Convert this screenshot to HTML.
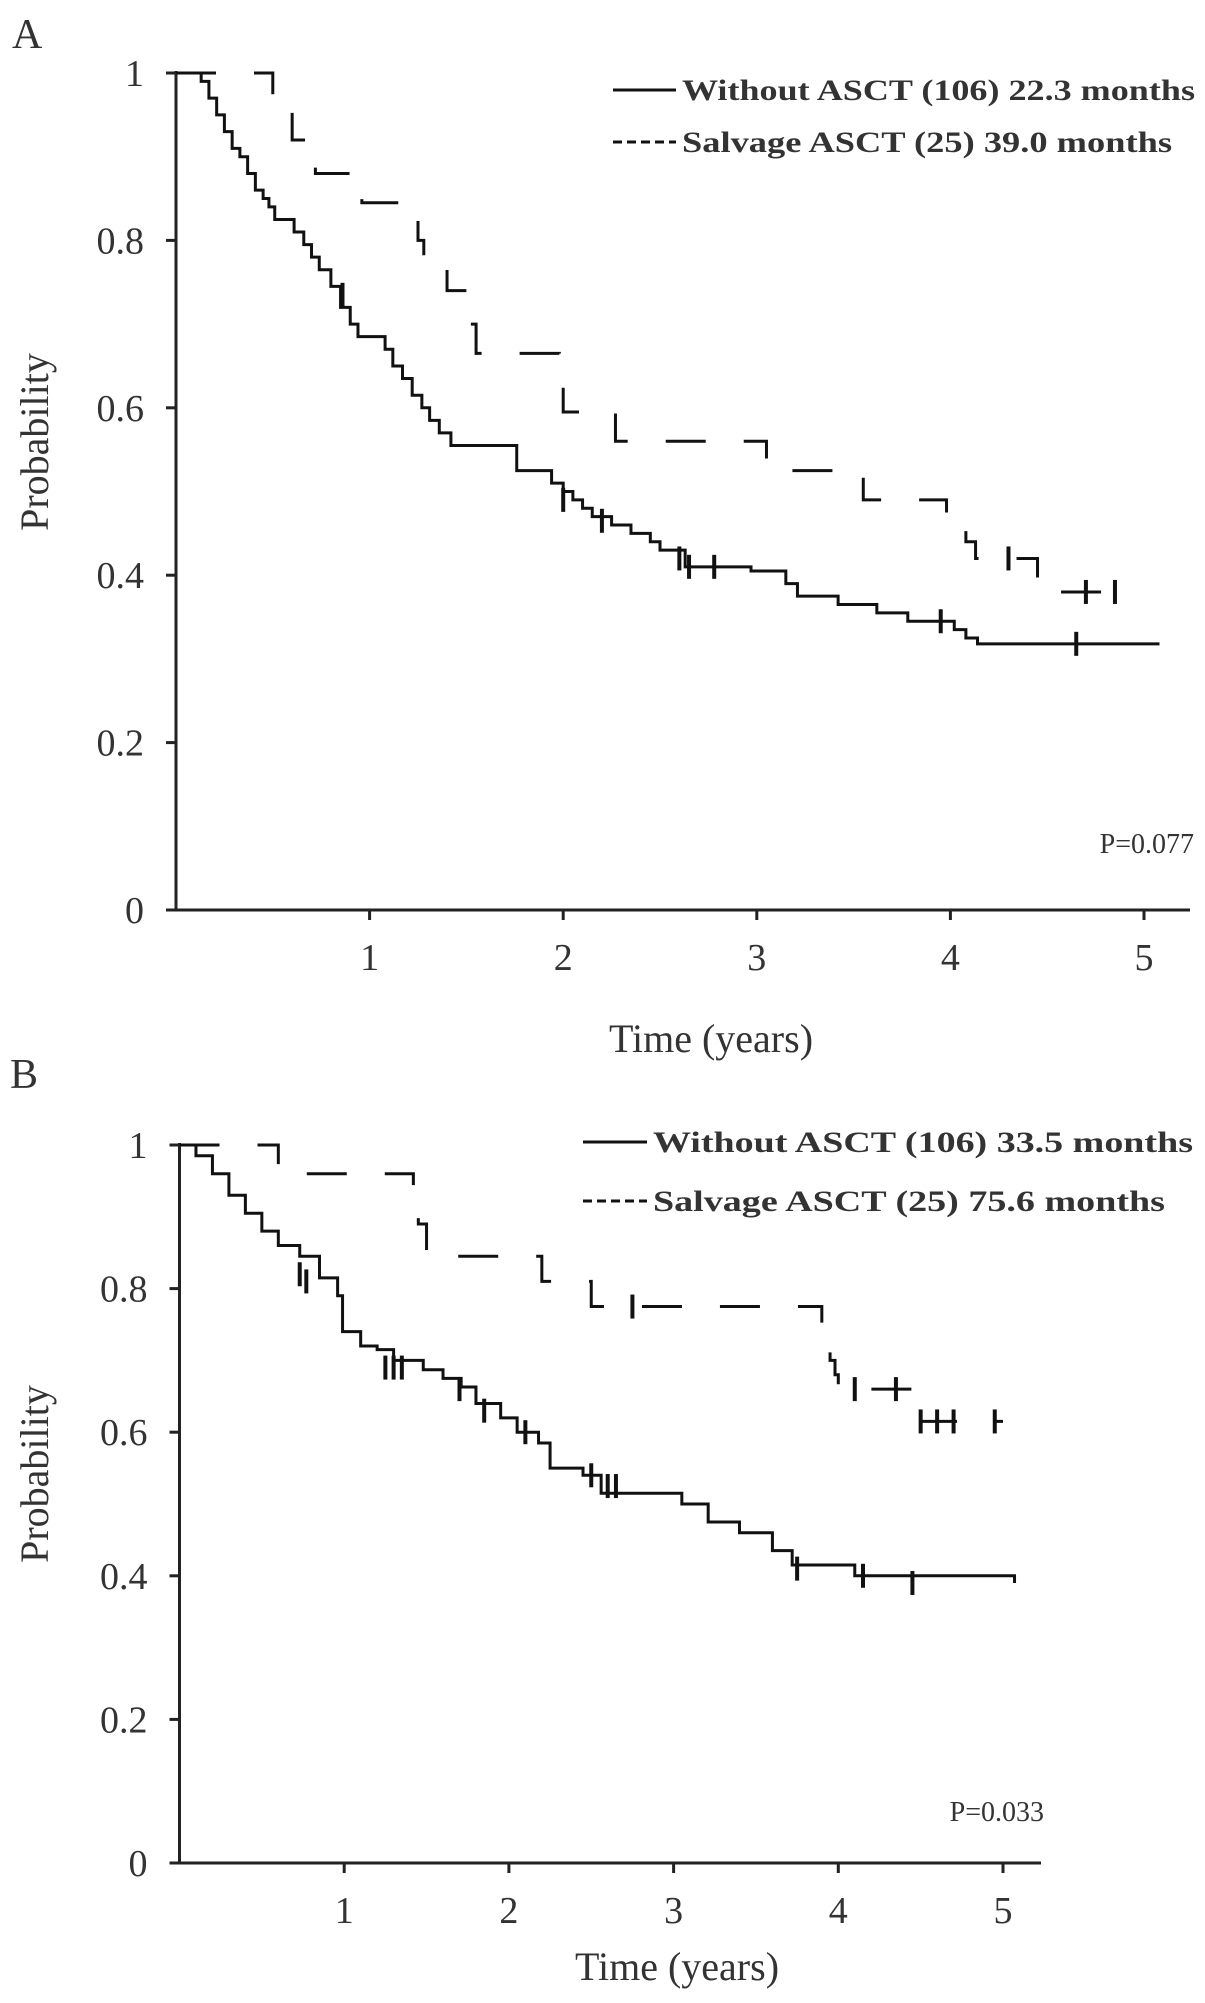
<!DOCTYPE html>
<html><head><meta charset="utf-8"><style>
html,body{margin:0;padding:0;background:#fff}
svg{display:block}
text{font-family:"Liberation Serif",serif;fill:#333}
</style></head><body>
<svg id="fig" width="1205" height="2003" xmlns="http://www.w3.org/2000/svg">
<text x="12" y="48" font-size="42">A</text>
<text x="10" y="1088" font-size="42">B</text>
<g id="ga"></g>
<g id="gb"></g>
</svg>
<script>
const yTicks=[0,0.2,0.4,0.6,0.8,1];
const yTickLabels=["0","0.2","0.4","0.6","0.8","1"];
const xTicks=[1,2,3,4,5];
const aSolidT=[0,0.13,0.17,0.21,0.25,0.29,0.33,0.37,0.41,0.45,0.48,0.51,0.61,0.66,0.7,0.74,0.8,0.85,0.9,0.94,1.08,1.12,1.17,1.22,1.27,1.31,1.36,1.42,1.76,1.94,2.0,2.05,2.1,2.15,2.25,2.35,2.45,2.5,2.63,2.97,3.15,3.21,3.42,3.62,3.78,4.02,4.08,4.14,5.08];
const aSolidS=[1,0.99,0.97,0.95,0.93,0.91,0.9,0.88,0.86,0.85,0.84,0.825,0.81,0.795,0.78,0.765,0.745,0.72,0.7,0.685,0.67,0.65,0.635,0.615,0.6,0.585,0.57,0.555,0.525,0.51,0.5,0.49,0.48,0.47,0.46,0.45,0.44,0.43,0.41,0.405,0.39,0.375,0.365,0.355,0.345,0.335,0.325,0.318,0.318];
const aSolidCensT=[0.86,2.0,2.2,2.6,2.65,2.78,3.95,4.65];
const aSolidCensS=[0.735,0.49,0.465,0.42,0.41,0.41,0.345,0.318];
const aDashT=[0,0.5,0.6,0.72,0.96,1.25,1.28,1.4,1.5,1.55,1.98,2.0,2.27,3.05,3.55,3.98,4.08,4.13,4.45,4.88];
const aDashS=[1,0.96,0.92,0.88,0.845,0.8,0.775,0.74,0.7,0.665,0.63,0.595,0.56,0.525,0.49,0.455,0.44,0.42,0.38,0.38];
const aDashCensT=[4.3,4.7,4.85];
const aDashCensS=[0.42,0.38,0.38];
const bSolidT=[0,0.1,0.2,0.3,0.4,0.5,0.6,0.73,0.85,0.96,0.99,1.1,1.2,1.3,1.48,1.6,1.71,1.8,1.95,2.05,2.18,2.25,2.45,2.56,3.05,3.21,3.4,3.6,3.72,4.1,5.07];
const bSolidS=[1,0.985,0.96,0.93,0.905,0.88,0.86,0.845,0.815,0.79,0.74,0.72,0.715,0.7,0.687,0.675,0.663,0.64,0.62,0.6,0.585,0.55,0.54,0.515,0.5,0.475,0.46,0.435,0.415,0.4,0.39];
const bSolidCensT=[0.73,0.77,1.25,1.3,1.35,1.7,1.85,2.1,2.5,2.6,2.65,3.75,4.15,4.45];
const bSolidCensS=[0.82,0.81,0.69,0.69,0.69,0.66,0.63,0.6,0.54,0.525,0.525,0.41,0.4,0.39];
const bDashT=[0,0.6,1.42,1.45,1.5,2.2,2.5,3.9,3.95,3.98,4.0,4.5,5.0];
const bDashS=[1,0.96,0.93,0.89,0.845,0.81,0.775,0.74,0.7,0.68,0.66,0.615,0.615];
const bDashCensT=[2.75,4.1,4.35,4.5,4.6,4.7,4.95];
const bDashCensS=[0.775,0.66,0.66,0.615,0.615,0.615,0.615];
const NS="http://www.w3.org/2000/svg";
function mk(g,tag,at,txt){const e=document.createElementNS(NS,tag);for(const k in at)e.setAttribute(k,at[k]);if(txt!==undefined)e.textContent=txt;g.appendChild(e);return e;}
function chart(g,cfg){
 const X=t=>cfg.x0+t*cfg.px;const Y=s=>cfg.y0-s*cfg.py;
 let ax=mk(g,'path',{d:`M${cfg.x0},${Y(1)-2}V${cfg.y0}H${cfg.xEnd}`,stroke:'#222','stroke-width':3,fill:'none'});
 
 
 yTicks.forEach((v,i)=>{
  let l=mk(g,'line',{x1:cfg.x0-10,x2:cfg.x0,y1:Y(v),y2:Y(v),stroke:'#222','stroke-width':3});
  
  
  let t=mk(g,'text',{x:cfg.x0-32,y:Y(v)+13,'font-size':38,'text-anchor':'end'},yTickLabels[i]);
  
  
 });
 xTicks.forEach(v=>{
  let l=mk(g,'line',{x1:X(v),x2:X(v),y1:cfg.y0,y2:cfg.y0+10,stroke:'#222','stroke-width':3});
  
  
  let t=mk(g,'text',{x:X(v),y:cfg.y0+60,'font-size':38,'text-anchor':'middle'},String(v));
  
  
 });
 function step(T,S,dash,name){
  let d=`M${X(T[0])},${Y(S[0])}`;
  for(let i=1;i<T.length;i++){d+=`H${X(T[i])}V${Y(S[i])}`;}
  let p=mk(g,'path',{d,stroke:'#111','stroke-width':3,fill:'none'});
  if(dash)p.setAttribute('stroke-dasharray',dash);
  
  
 }
 function cens(T,S,name){
  T.forEach((t,i)=>{
   let p=mk(g,'path',{d:`M${X(t)},${Y(S[i])-12}v24`,stroke:'#111','stroke-width':4});
   
   
  });
 }
 step(cfg.sT,cfg.sS,null,'without-asct-curve');
 step(cfg.dT,cfg.dS,'40,38','salvage-asct-curve');
 cens(cfg.sCT,cfg.sCS,'without-asct-censor');
 cens(cfg.dCT,cfg.dCS,'salvage-asct-censor');
 let xt=mk(g,'text',{x:cfg.xt[0],y:cfg.xt[1],'font-size':40,'text-anchor':'middle'},'Time (years)');
 
 
 let yt=mk(g,'text',{x:0,y:0,'font-size':40,'text-anchor':'middle',transform:`translate(${cfg.yt[0]},${cfg.yt[1]}) rotate(-90)`},'Probability');
 
 
 const [lx1,lx2,ly]=cfg.leg;
 let l1=mk(g,'line',{x1:lx1,x2:lx2,y1:ly,y2:ly,stroke:'#111','stroke-width':3});
 
 
 let t1=mk(g,'text',{x:lx2+6,y:ly+10,'font-size':30,'font-weight':'bold',textLength:cfg.legW[0],lengthAdjust:'spacingAndGlyphs'},cfg.legT[0]);
 
 
 let l2=mk(g,'line',{x1:lx1,x2:lx2,y1:ly+cfg.legDy,y2:ly+cfg.legDy,stroke:'#111','stroke-width':3,'stroke-dasharray':'9,5'});
 
 
 let t2=mk(g,'text',{x:lx2+6,y:ly+cfg.legDy+10,'font-size':30,'font-weight':'bold',textLength:cfg.legW[1],lengthAdjust:'spacingAndGlyphs'},cfg.legT[1]);
 
 
 let pv=mk(g,'text',{x:cfg.pv[0],y:cfg.pv[1],'font-size':28,'text-anchor':'end'},cfg.pv[2]);
 
 
}
chart(document.getElementById('ga'),{x0:176,px:193.6,y0:910,py:837,xEnd:1190,
 sT:aSolidT,sS:aSolidS,sCT:aSolidCensT,sCS:aSolidCensS,dT:aDashT,dS:aDashS,dCT:aDashCensT,dCS:aDashCensS,
 xt:[711,1052],yt:[48,442],leg:[613,676,90],legDy:52,legW:[513,490],
 legT:['Without ASCT  (106)  22.3  months','Salvage ASCT  (25)  39.0  months'],pv:[1194,853,'P=0.077']});
chart(document.getElementById('gb'),{x0:179.5,px:164.7,y0:1863,py:718,xEnd:1041,
 sT:bSolidT,sS:bSolidS,sCT:bSolidCensT,sCS:bSolidCensS,dT:bDashT,dS:bDashS,dCT:bDashCensT,dCS:bDashCensS,
 xt:[677,1980],yt:[48,1474],leg:[583,647,1142],legDy:59,legW:[540,512],
 legT:['Without ASCT  (106)  33.5  months','Salvage ASCT  (25)  75.6  months'],pv:[1044,1821,'P=0.033']});
</script>
</body></html>
